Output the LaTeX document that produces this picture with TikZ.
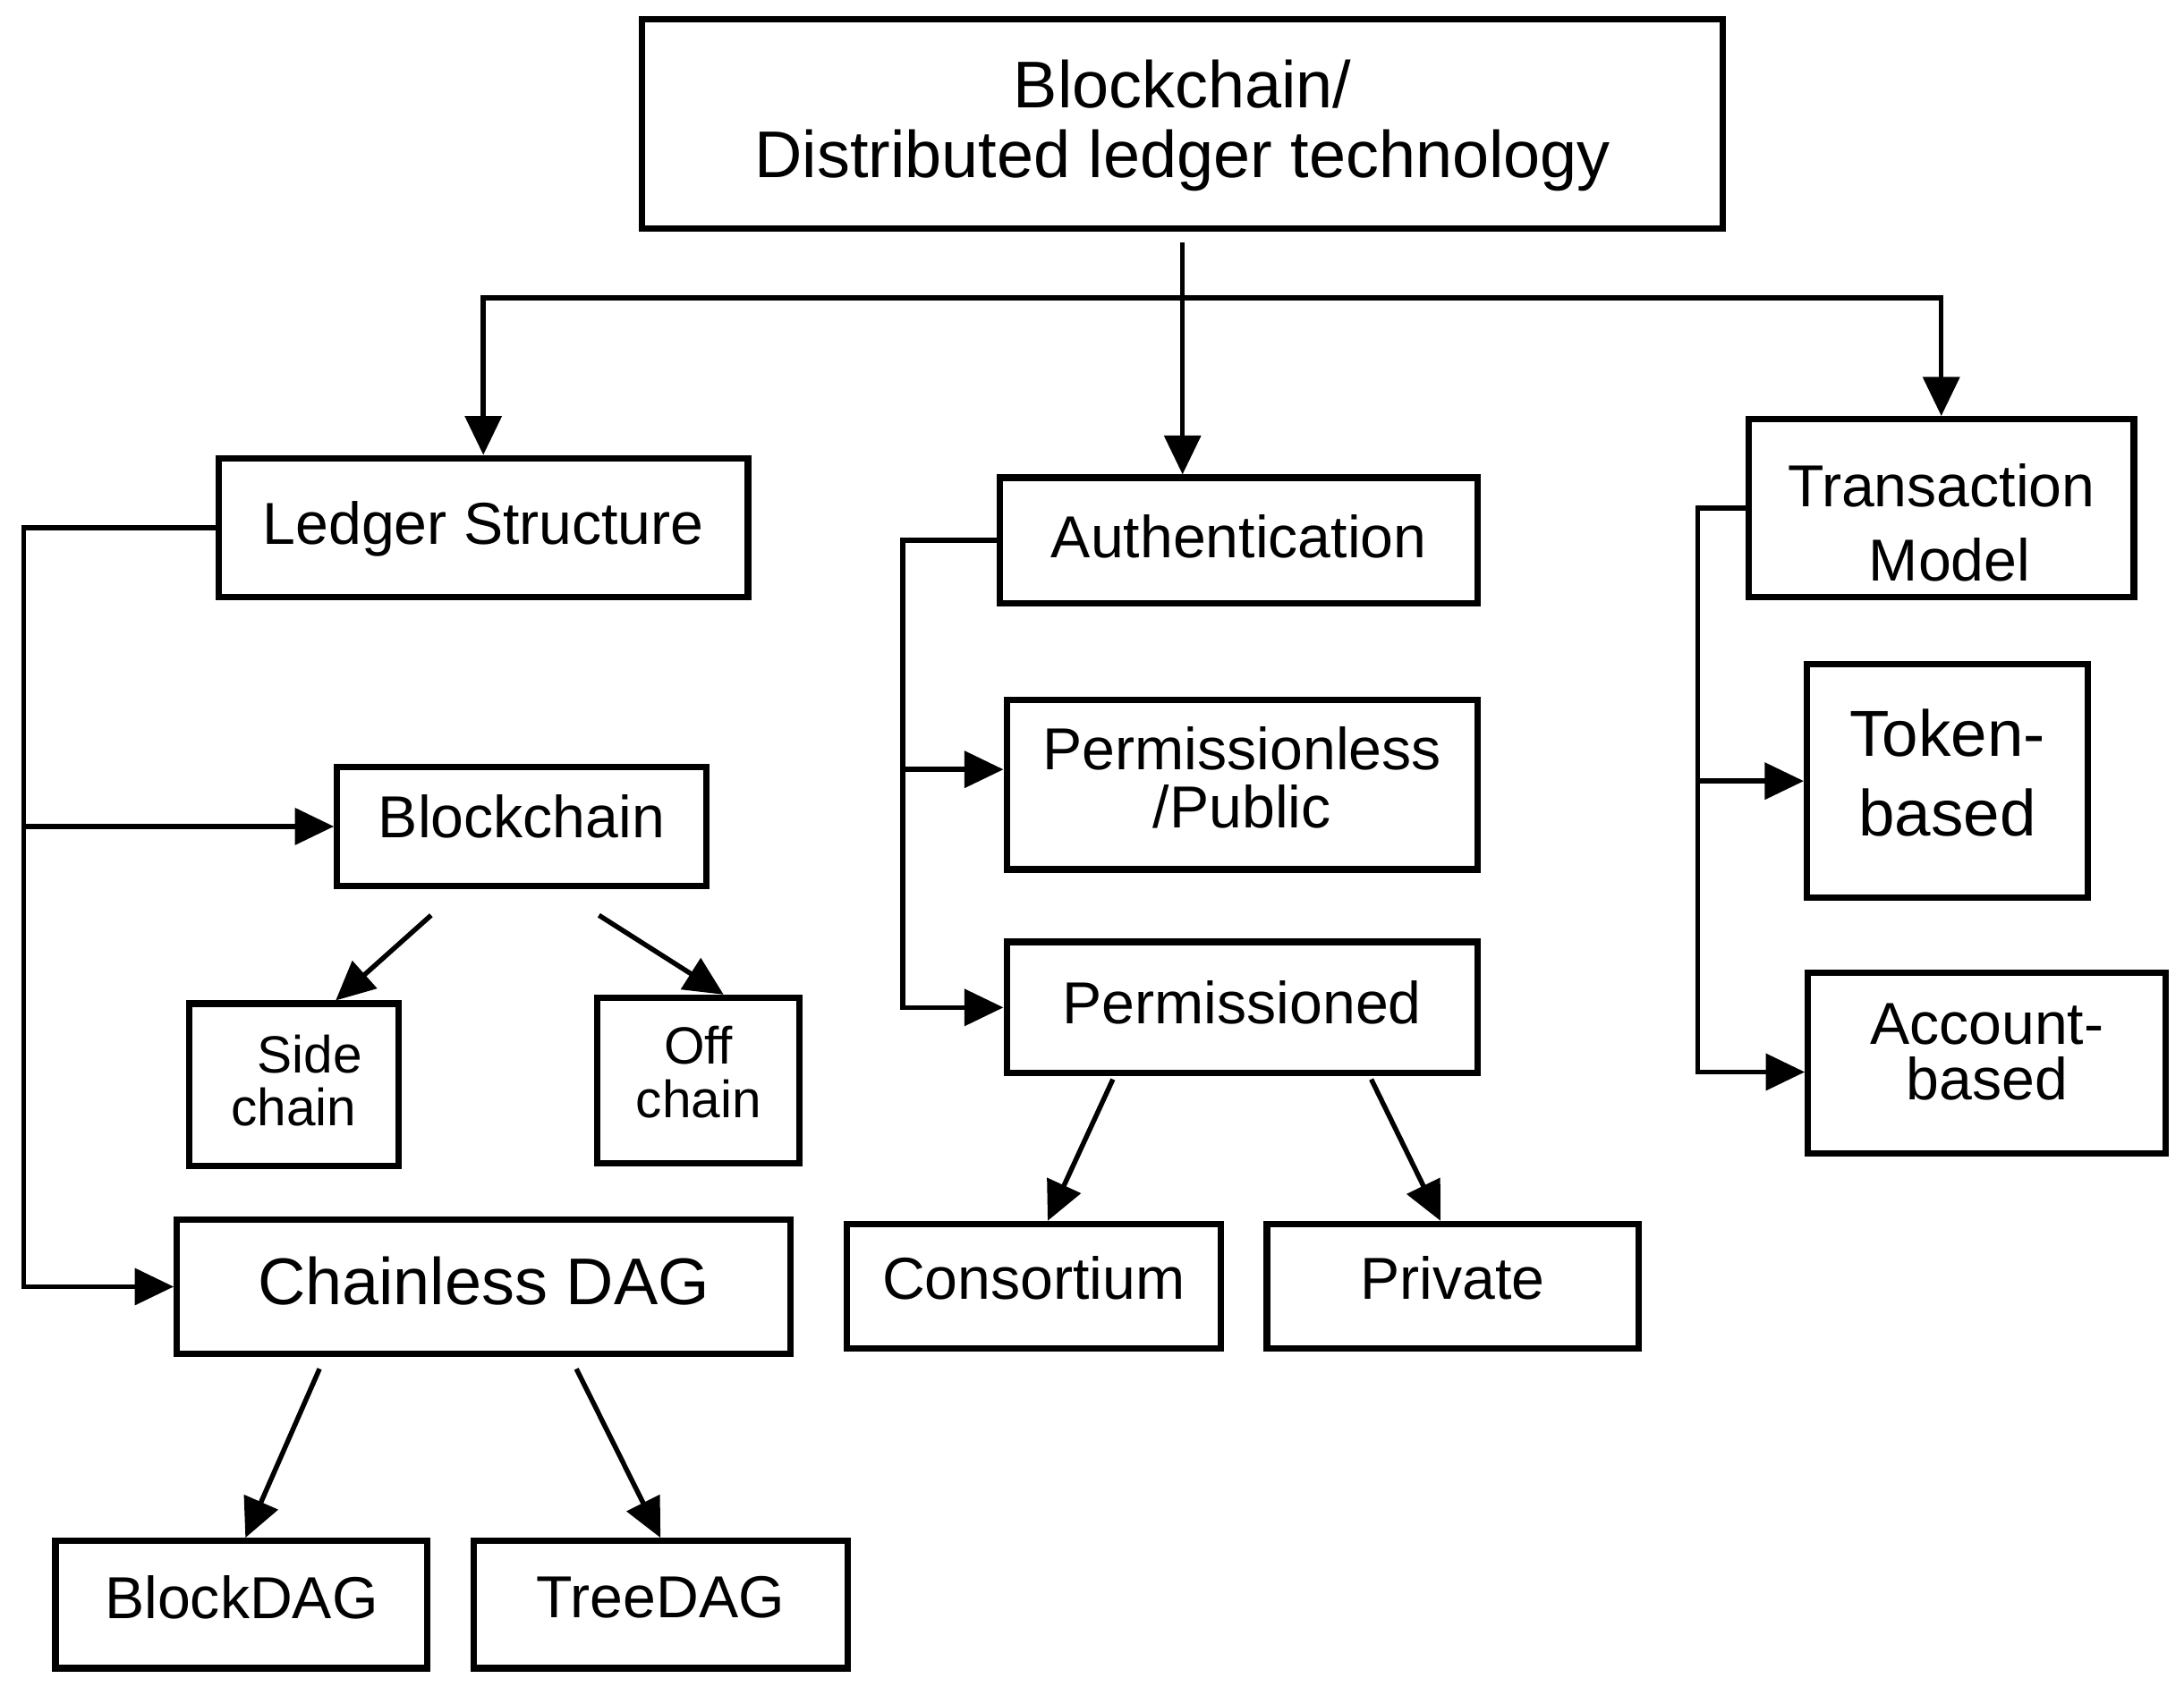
\documentclass[tikz,border=0pt]{standalone}
\usepackage{fontspec}
\setmainfont{Liberation Sans}
\usetikzlibrary{arrows.meta,calc}
\newcommand\stk[2]{\raisebox{#1}[\height][\depth]{\vbox{\halign{\hfil##\hfil\cr#2\crcr}}}}
\begin{document}
\begin{tikzpicture}[x=0.1mm,y=-0.1mm,
  box/.style={draw=black,line width=1.3pt,rectangle,inner sep=0pt,text=black},
  conn/.style={line width=1pt,draw=black},
  arr/.style={conn,-{Triangle[length=2.8mm,width=2.6mm]}},
  fN/.style={font=\fontsize{12.1pt}{14.5pt}\selectfont},
  fL/.style={font=\fontsize{13.5pt}{14.2pt}\selectfont}
]
\useasboundingbox (0,0) rectangle (1568,1211);
\fill[white] (0,0) rectangle (1568,1211);

% boxes
\node[box,fL,minimum width=77.6mm,minimum height=15mm] (root) at (849,89) {\stk{-0.1mm}{Blockchain/\cr Distributed ledger technology}};
\node[box,fN,minimum width=38mm,minimum height=10mm] (ls) at (347,379) {\stk{-0.1mm}{Ledger Structure}};
\node[box,fN,minimum width=34.3mm,minimum height=9mm] (auth) at (889.5,388) {\stk{0.3mm}{Authentication}};
\node[box,font=\fontsize{12.1pt}{15.1pt}\selectfont,minimum width=27.65mm,minimum height=12.75mm] (tm) at (1393.75,364.75) {\stk{-1.05mm}{Transaction\cr\hspace*{1.2mm}Model}};
\node[box,fN,minimum width=26.5mm,minimum height=8.5mm] (bc) at (374.5,593.5) {\stk{0.7mm}{Blockchain}};
\node[box,font=\fontsize{10.7pt}{10.9pt}\selectfont,minimum width=15mm,minimum height=11.65mm] (sc) at (211,779) {\stk{0.3mm}{\hspace*{2.3mm}Side\cr chain}};
\node[box,font=\fontsize{10.7pt}{11.1pt}\selectfont,minimum width=14.5mm,minimum height=11.9mm] (oc) at (501.5,776) {\stk{0.6mm}{Off\cr chain}};
\node[box,fL,minimum width=44.04mm,minimum height=9.6mm] (cd) at (347.2,924) {\stk{0.4mm}{Chainless DAG}};
\node[box,fN,minimum width=26.72mm,minimum height=9.14mm] (bd) at (173.4,1152.3) {\stk{0.5mm}{BlockDAG}};
\node[box,fN,minimum width=26.84mm,minimum height=9.14mm] (td) at (474.2,1152.3) {\stk{0.5mm}{TreeDAG}};
\node[box,font=\fontsize{12.1pt}{11.95pt}\selectfont,minimum width=33.81mm,minimum height=12.17mm] (pl) at (891.75,563.55) {\stk{0.5mm}{Permissionless\cr /Public}};
\node[box,fN,minimum width=33.81mm,minimum height=9.42mm] (pd) at (891.75,723.5) {\stk{0.35mm}{Permissioned}};
\node[box,fN,minimum width=26.84mm,minimum height=8.95mm] (cons) at (742.2,923.75) {\stk{0.6mm}{Consortium}};
\node[box,fN,minimum width=26.66mm,minimum height=8.95mm] (priv) at (1042.9,923.75) {\stk{0.6mm}{Private}};
\node[box,font=\fontsize{13.3pt}{16.2pt}\selectfont,minimum width=20.17mm,minimum height=16.78mm] (tok) at (1398.15,560.9) {\stk{0.6mm}{Token-\cr based}};
\node[box,font=\fontsize{12.1pt}{11.4pt}\selectfont,minimum width=25.7mm,minimum height=13.01mm] (acc) at (1426.5,763.35) {\stk{0.8mm}{Account-\cr based}};

% coordinates
\coordinate (bus) at (850,214);
\coordinate (lsx) at (17,0);
\coordinate (ax) at (648,0);
\coordinate (tx) at (1219,0);
\coordinate (plin) at ([shift={(0,-11)}]pl.west);
\coordinate (accin) at ([shift={(0,6.5)}]acc.west);

% top level
\draw[arr] ([yshift=-0.75mm]root.south) -- (root.south |- auth.north);
\draw[arr] (bus) -| (ls.north);
\draw[arr] (bus) -| (tm.north);

% ledger structure
\draw[arr] (ls.west) -| (lsx |- cd.west) -- (cd.west);
\draw[arr] (lsx |- bc.west) -- (bc.west);
\draw[arr] ([shift={(-65,19)}]bc.south) -- ([shift={(30,0)}]sc.north);
\draw[arr] ([shift={(55.5,19)}]bc.south) -- ([shift={(18,0)}]oc.north);
\draw[arr] ([shift={(-117.8,8.7)}]cd.south) -- ([shift={(2.8,0)}]bd.north);
\draw[arr] ([shift={(66.6,8.7)}]cd.south) -- (td.north);

% authentication
\draw[arr] (auth.west) -| (ax |- pd.west) -- (pd.west);
\draw[arr] (ax |- plin) -- (plin);
\draw[arr] ([shift={(-92.75,2.2)}]pd.south) -- ([shift={(10,0)}]cons.north);
\draw[arr] ([shift={(92.75,2.2)}]pd.south) -- ([shift={(-8.7,0)}]priv.north);

% transaction model
\draw[arr] (tm.west) -| (tx |- accin) -- (accin);
\draw[arr] (tx |- tok.west) -- (tok.west);
\end{tikzpicture}
\end{document}
